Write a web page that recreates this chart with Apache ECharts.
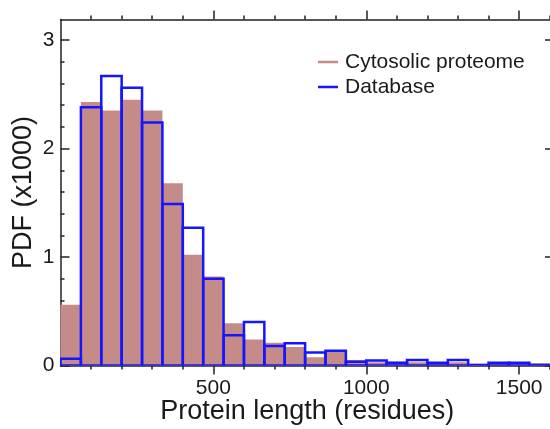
<!DOCTYPE html>
<html>
<head>
<meta charset="utf-8">
<script src="https://cdn.jsdelivr.net/npm/echarts@6/dist/echarts.min.js"></script>
<style>
html, body { margin: 0; padding: 0; width: 550px; height: 429px; overflow: hidden; background: #fff; }
#chart { width: 555px; height: 429px; }
</style>
</head>
<body>
<div id="chart"></div>
<script>
// Histogram bins (lower and upper edges, residues)
const binLower = [0, 66.67, 133.33, 200, 266.67, 333.33, 400, 466.67, 533.33, 600, 666.67, 733.33,
                  800, 866.67, 933.33, 1000, 1066.67, 1133.33, 1200, 1266.67, 1333.33, 1400, 1466.67, 1533.33];
const binUpper = [66.67, 133.33, 200, 266.67, 333.33, 400, 466.67, 533.33, 600, 666.67, 733.33, 800,
                  866.67, 933.33, 1000, 1066.67, 1133.33, 1200, 1266.67, 1333.33, 1400, 1466.67, 1533.33, 1600];
// PDF (x1000)
const cytosolic = [0.56, 2.43, 2.35, 2.45, 2.35, 1.68, 1.02, 0.82, 0.39, 0.24, 0.21, 0.17,
                   0.075, 0.13, 0.05, 0.03, 0.035, 0.03, 0.03, 0.03, 0.015, 0.02, 0.02, 0.02];
const database  = [0.063, 2.38, 2.67, 2.56, 2.24, 1.49, 1.27, 0.80, 0.28, 0.40, 0.18, 0.205,
                   0.12, 0.137, 0.035, 0.045, 0.026, 0.05, 0.026, 0.05, 0.005, 0.026, 0.026, 0.005];
const xMajorTicks = [500, 1000, 1500];
const xMinorTicks = [100, 200, 300, 400, 600, 700, 800, 900, 1100, 1200, 1300, 1400, 1600];
const yMajorTicks = [0, 1, 2, 3];
const yMinorTicks = [0.2, 0.4, 0.6, 0.8, 1.2, 1.4, 1.6, 1.8, 2.2, 2.4, 2.6, 2.8];

const FONT = "'Liberation Sans', Arial, Helvetica, sans-serif";
const AXIS_COLOR = '#222';
const TEXT_COLOR = '#1a1a1a';
const CYTO_COLOR = '#c58b89';
const DB_COLOR = '#1515ff';
const X_MIN = 0, X_MAX = 1614, Y_MIN = 0, Y_MAX = 3.19;

function toData(vals) {
  return vals.map((v, i) => [binLower[i], binUpper[i], v]);
}
function plainNum(v) { return String(Math.round(v * 1000) / 1000); }

function xAxisDef(position, ticks, len, showLine, showLabel) {
  return {
    type: 'value', position: position, min: X_MIN, max: X_MAX,
    axisLine: { show: showLine, onZero: false, lineStyle: { color: AXIS_COLOR, width: 1.5 } },
    axisTick: { show: true, inside: false, length: len, customValues: ticks, lineStyle: { color: AXIS_COLOR, width: 1.5 } },
    axisLabel: showLabel ? { show: true, customValues: ticks, formatter: plainNum, fontSize: 21, fontFamily: FONT, color: TEXT_COLOR, margin: 12 } : { show: false },
    splitLine: { show: false }
  };
}
function yAxisDef(position, ticks, len, showLine, showLabel) {
  return {
    type: 'value', position: position, min: Y_MIN, max: Y_MAX,
    axisLine: { show: showLine, onZero: false, lineStyle: { color: AXIS_COLOR, width: 1.5 } },
    axisTick: { show: true, inside: true, length: len, customValues: ticks, lineStyle: { color: AXIS_COLOR, width: 1.5 } },
    axisLabel: showLabel ? { show: true, customValues: ticks, formatter: plainNum, fontSize: 21, fontFamily: FONT, color: TEXT_COLOR, margin: 6 } : { show: false },
    splitLine: { show: false }
  };
}

const xMain = xAxisDef('bottom', xMajorTicks, 9, true, true);
xMain.name = 'Protein length (residues)';
xMain.nameLocation = 'middle';
xMain.nameGap = 33;
xMain.nameMoveOverlap = false;
xMain.nameTextStyle = { fontSize: 27, fontFamily: FONT, color: TEXT_COLOR };

const yMain = yAxisDef('left', yMajorTicks, 9, true, true);
yMain.name = 'PDF (x1000)';
yMain.nameLocation = 'middle';
yMain.nameGap = 23;
yMain.nameMoveOverlap = false;
yMain.nameTextStyle = { fontSize: 27, fontFamily: FONT, color: TEXT_COLOR };

const option = {
  animation: false,
  backgroundColor: '#fff',
  grid: { left: 60.5, right: 1, top: 19.5, bottom: 63.5, containLabel: false, outerBoundsMode: 'none' },
  xAxis: [
    xMain,
    xAxisDef('bottom', xMinorTicks, 4, false, false),
    xAxisDef('top', xMajorTicks, 9, true, false),
    xAxisDef('top', xMinorTicks, 4, false, false)
  ],
  yAxis: [
    yMain,
    yAxisDef('left', yMinorTicks, 4, false, false),
    yAxisDef('right', yMajorTicks, 9, true, false),
    yAxisDef('right', yMinorTicks, 4, false, false)
  ],
  legend: {
    orient: 'vertical', left: 313, top: 46, itemWidth: 20, itemHeight: 2.5, itemGap: 3,
    textStyle: { fontSize: 21, fontFamily: FONT, color: TEXT_COLOR, lineHeight: 22, padding: [0, 0, 0, 2] },
    data: [
      { name: 'Cytosolic proteome', icon: 'rect', itemStyle: { color: CYTO_COLOR } },
      { name: 'Database', icon: 'rect', itemStyle: { color: DB_COLOR } }
    ]
  },
  series: [
    {
      name: 'Cytosolic proteome', type: 'custom', xAxisIndex: 0, yAxisIndex: 0, clip: true,
      itemStyle: { color: CYTO_COLOR },
      encode: { x: [0, 1], y: 2 },
      data: toData(cytosolic),
      renderItem: function (params, api) {
        const p0 = api.coord([api.value(0), api.value(2)]);
        const p1 = api.coord([api.value(1), 0]);
        return { type: 'rect', shape: { x: p0[0], y: p0[1], width: p1[0] - p0[0], height: p1[1] - p0[1] },
                 style: { fill: CYTO_COLOR } };
      }
    },
    {
      name: 'Database', type: 'custom', xAxisIndex: 0, yAxisIndex: 0, clip: true,
      itemStyle: { color: DB_COLOR },
      encode: { x: [0, 1], y: 2 },
      data: toData(database),
      renderItem: function (params, api) {
        const p0 = api.coord([api.value(0), api.value(2)]);
        const p1 = api.coord([api.value(1), 0]);
        return { type: 'rect', shape: { x: p0[0], y: p0[1], width: p1[0] - p0[0], height: p1[1] - p0[1] },
                 style: { fill: 'none', stroke: DB_COLOR, lineWidth: 2.5 } };
      }
    }
  ]
};

const chart = echarts.init(document.getElementById('chart'), null, { renderer: 'canvas' });
chart.setOption(option);
</script>
</body>
</html>
